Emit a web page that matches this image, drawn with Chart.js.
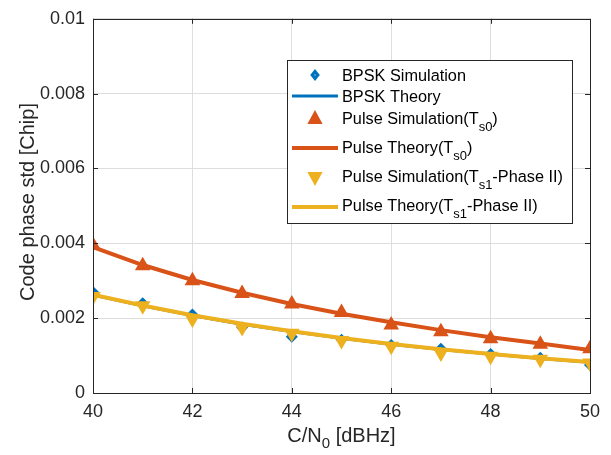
<!DOCTYPE html>
<html>
<head>
<meta charset="utf-8">
<script src="https://cdn.jsdelivr.net/npm/chart.js@4.4.0/dist/chart.umd.min.js"></script>
<style>
html,body{margin:0;padding:0;background:#fff;}
canvas{display:block;}
</style>
</head>
<body>
<canvas id="c" width="611" height="455"></canvas>
<script>
// ---- data ----
const cn0 = [40, 41, 42, 43, 44, 45, 46, 47, 48, 49, 50];
const bpskSim = [0.00270, 0.00240, 0.00210, 0.00175, 0.00150, 0.00142, 0.00128, 0.00118, 0.00104, 0.00094, 0.00075];
const bpskTheory = [0.00262, 0.00233, 0.00207, 0.00184, 0.00164, 0.00146, 0.00130, 0.00116, 0.00104, 0.00092, 0.00082];
const pulseSimTs0 = [0.00395, 0.00340, 0.00300, 0.00266, 0.00238, 0.00215, 0.00182, 0.00164, 0.00145, 0.00130, 0.00118];
const pulseTheoryTs0 = [0.00390, 0.00342, 0.00302, 0.00268, 0.00238, 0.00212, 0.00189, 0.00168, 0.00149, 0.00132, 0.00115];
const pulseSimTs1 = [0.00258, 0.00233, 0.00198, 0.00175, 0.00160, 0.00140, 0.00125, 0.00107, 0.00098, 0.00090, 0.00080];
const pulseTheoryTs1 = [0.00263, 0.00234, 0.00208, 0.00185, 0.00165, 0.00147, 0.00131, 0.00117, 0.00104, 0.00093, 0.00083];
const xTicks = [40, 42, 44, 46, 48, 50];
const yTicks = [0, 0.002, 0.004, 0.006, 0.008, 0.01];
const legendEntries = [
  {type:'marker', style:'rectRot', color:'#0072BD', parts:[['BPSK Simulation','']]},
  {type:'line', color:'#0072BD', parts:[['BPSK Theory','']]},
  {type:'marker', style:'triangle', color:'#D95319', parts:[['Pulse Simulation(T','s0'],[')','']]},
  {type:'line', color:'#D95319', parts:[['Pulse Theory(T','s0'],[')','']]},
  {type:'marker', style:'triangleDown', color:'#EDB120', parts:[['Pulse Simulation(T','s1'],['-Phase II)','']]},
  {type:'line', color:'#EDB120', parts:[['Pulse Theory(T','s1'],['-Phase II)','']]}
];

const pts = arr => arr.map((v,i)=>({x:cn0[i], y:v}));
const FONT = '"Liberation Sans", Arial, sans-serif';
const BLUE='#0072BD', ORANGE='#D95319', YELLOW='#EDB120';

const overlay = {
  id:'overlay',
  afterDatasetsDraw(chart){
    const ctx = chart.ctx, a = chart.chartArea;
    const xs = chart.scales.x, ys = chart.scales.y;
    ctx.save();
    // box
    ctx.strokeStyle = '#262626'; ctx.lineWidth = 1;
    ctx.strokeRect(Math.round(a.left)+0.5, Math.round(a.top)+0.5, Math.round(a.right-a.left), Math.round(a.bottom-a.top));
    // inward ticks
    ctx.beginPath();
    const tl = 5;
    xTicks.forEach(t=>{ const px = Math.round(xs.getPixelForValue(t))+0.5;
      ctx.moveTo(px, a.bottom); ctx.lineTo(px, a.bottom-tl);
      ctx.moveTo(px, a.top); ctx.lineTo(px, a.top+tl); });
    yTicks.forEach(t=>{ const py = Math.round(ys.getPixelForValue(t))+0.5;
      ctx.moveTo(a.left, py); ctx.lineTo(a.left+tl, py);
      ctx.moveTo(a.right, py); ctx.lineTo(a.right-tl, py); });
    ctx.stroke();

    // legend
    const lx = 287, ly = 60, lw = 285, lh = 163;
    ctx.fillStyle = '#fff';
    ctx.fillRect(lx, ly, lw, lh);
    ctx.strokeStyle = '#262626';
    ctx.strokeRect(lx+0.5, ly+0.5, lw, lh);
    const rows = [75, 96, 118, 147, 176, 205];
    const markRows = [75, 96, 118, 148, 178, 207];
    legendEntries.forEach((e,i)=>{
      const ry = rows[i], my = markRows[i];
      if (e.type==='line'){
        ctx.strokeStyle = e.color; ctx.lineWidth = (e.color===BLUE)?3:4;
        ctx.beginPath(); ctx.moveTo(292, my); ctx.lineTo(338, my); ctx.stroke();
      } else {
        ctx.fillStyle = e.color;
        ctx.beginPath();
        const cx = 315, r = 8;
        if (e.style==='rectRot'){ const d=6; ctx.moveTo(cx,my-d); ctx.lineTo(cx+d*0.8,my); ctx.lineTo(cx,my+d); ctx.lineTo(cx-d*0.8,my); }
        else if (e.style==='triangle'){ ctx.moveTo(cx,my-r); ctx.lineTo(cx+r*0.95,my+r*0.75); ctx.lineTo(cx-r*0.95,my+r*0.75); }
        else { ctx.moveTo(cx,my+r); ctx.lineTo(cx+r*0.95,my-r*0.75); ctx.lineTo(cx-r*0.95,my-r*0.75); }
        ctx.closePath(); ctx.fill();
        if (e.style==='rectRot'){ ctx.fillStyle='#fff'; ctx.fillRect(cx-0.5,my-0.5,1,1); }
      }
      ctx.fillStyle = '#000';
      ctx.textBaseline = 'alphabetic'; ctx.textAlign='left';
      let x = 342; const base = ry + 6;
      e.parts.forEach(([main, sub])=>{
        ctx.font = '16.3px ' + FONT;
        ctx.fillText(main, x, base); x += ctx.measureText(main).width;
        if (sub){ ctx.font = '13px ' + FONT; ctx.fillText(sub, x, base+7); x += ctx.measureText(sub).width; }
      });
    });

    // axis titles
    ctx.fillStyle = '#262626';
    ctx.textBaseline = 'alphabetic';
    const xt1 = 'C/N', xt2 = '0', xt3 = ' [dBHz]';
    ctx.font = '20px ' + FONT; const w1 = ctx.measureText(xt1).width, w3 = ctx.measureText(xt3).width;
    ctx.font = '15px ' + FONT; const w2 = ctx.measureText(xt2).width;
    let sx = (a.left+a.right)/2 - (w1+w2+w3)/2; const by = 442;
    ctx.font = '20px ' + FONT; ctx.fillText(xt1, sx, by); sx += w1;
    ctx.font = '15px ' + FONT; ctx.fillText(xt2, sx, by+6); sx += w2;
    ctx.font = '20px ' + FONT; ctx.fillText(xt3, sx, by);
    ctx.save();
    ctx.translate(34, 202);
    ctx.rotate(-Math.PI/2);
    ctx.textAlign = 'center';
    ctx.font = '20px ' + FONT;
    ctx.fillText('Code phase std [Chip]', 0, 0);
    ctx.restore();
    ctx.restore();
  }
};

new Chart(document.getElementById('c'), {
  type:'line',
  data:{
    datasets:[
      {label:'BPSK Simulation', data:pts(bpskSim), showLine:false, pointStyle:'rectRot', pointRadius:6, pointBackgroundColor:BLUE, pointBorderColor:BLUE, pointBorderWidth:0, borderColor:BLUE, order:6},
      {label:'BPSK Theory', data:pts(bpskTheory), borderColor:BLUE, borderWidth:3, pointRadius:0, tension:0, order:5},
      {label:'Pulse Simulation(Ts0)', data:pts(pulseSimTs0), showLine:false, pointStyle:'triangle', pointRadius:9, pointBackgroundColor:ORANGE, pointBorderColor:ORANGE, pointBorderWidth:0, borderColor:ORANGE, order:4},
      {label:'Pulse Theory(Ts0)', data:pts(pulseTheoryTs0), borderColor:ORANGE, borderWidth:4, pointRadius:0, tension:0, order:3},
      {label:'Pulse Simulation(Ts1-Phase II)', data:pts(pulseSimTs1), showLine:false, pointStyle:'triangle', rotation:180, pointRotation:180, pointRadius:9, pointBackgroundColor:YELLOW, pointBorderColor:YELLOW, pointBorderWidth:0, borderColor:YELLOW, order:2},
      {label:'Pulse Theory(Ts1-Phase II)', data:pts(pulseTheoryTs1), borderColor:YELLOW, borderWidth:4, pointRadius:0, tension:0, order:1}
    ]
  },
  options:{
    responsive:false, animation:false,
    layout:{padding:{left:0, top:15, right:21, bottom:0}},
    plugins:{legend:{display:false}, tooltip:{enabled:false}},
    scales:{
      x:{type:'linear', min:40, max:50,
         afterBuildTicks(s){ s.ticks = xTicks.map(v=>({value:v})); },
         afterFit(s){ s.height = 62; },
         grid:{color:'#dedede', drawTicks:false, lineWidth:1},
         border:{display:false},
         ticks:{padding:8, color:'#262626', font:{family:FONT, size:18}, maxRotation:0}},
      y:{type:'linear', min:0, max:0.01,
         afterBuildTicks(s){ s.ticks = yTicks.map(v=>({value:v})); },
         afterFit(s){ s.width = 93; },
         grid:{color:'#dedede', drawTicks:false, lineWidth:1},
         border:{display:false},
         ticks:{padding:8, color:'#262626', font:{family:FONT, size:18}, callback:v=>String(v)}}
    }
  },
  plugins:[overlay]
});
</script>
</body>
</html>
